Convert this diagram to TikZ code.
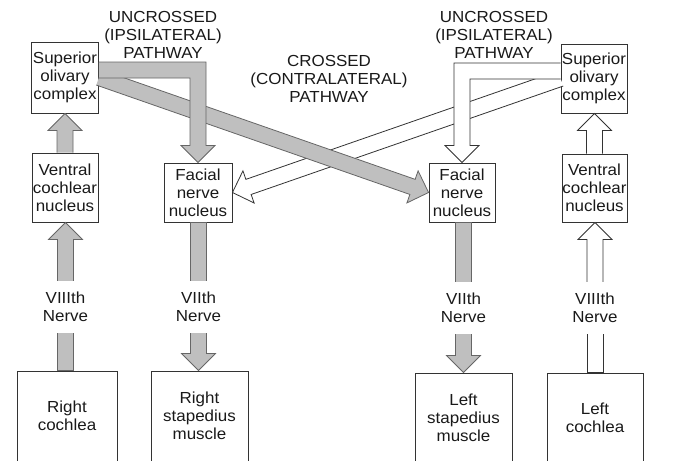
\documentclass[tikz,border=0pt]{standalone}
\usepackage{fontspec}
\setmainfont[FakeStretch=1.06]{Liberation Sans}
\usetikzlibrary{calc}

\tikzset{
	kasten/.style={draw=black!80, line width=0.9pt, align=center, inner sep=0pt, text=black!90, font=\fontsize{16}{18}\selectfont},
	nerv/.style={align=center, inner sep=0pt, minimum height=52pt, text=black!90, font=\fontsize{16}{18}\selectfont},
	titel/.style={align=center, inner sep=0pt, text=black!90, font=\fontsize{16}{18}\selectfont},
	grau/.style={draw=black!60, fill=black!25, line width=0.8pt},
	weiss/.style={draw=black!80, fill=white, line width=0.8pt},
}

% block arrow, head at #3, open at #2
\newcommand{\pfeil}[3][grau]{%
\path (#3) coordinate (pf-b) ($(#3)!17pt!(#2)$) coordinate (pf-k) (#2) coordinate (pf-a);
\filldraw[#1] ($(pf-a)!8pt!90:(pf-b)$) -- ($(pf-k)!8pt!90:(pf-b)$) -- ($(pf-k)!17pt!90:(pf-b)$) -- (pf-b)
  -- ($(pf-k)!17pt!-90:(pf-b)$) -- ($(pf-k)!8pt!-90:(pf-b)$) -- ($(pf-a)!8pt!-90:(pf-b)$);
}
% shaft without head, open at #3
\newcommand{\schaft}[3][grau]{%
\filldraw[#1] ($(#3)!8pt!-90:(#2)$) -- ($(#2)!8pt!90:(#3)$) -- ($(#2)!8pt!-90:(#3)$) -- ($(#3)!8pt!90:(#2)$);
}

\begin{document}
\begin{tikzpicture}[x=1pt,y=1pt]
\path[use as bounding box] (0,0) rectangle (687,-460);
\clip (0,0) rectangle (687,-460);

%right side (gray)
\node[kasten, minimum width=67pt, minimum height=71pt] (socR) at (65,-77.5) {Superior\\olivary\\complex};
\node[kasten, minimum width=66pt, minimum height=69pt] (vcnR) at (65,-187.5) {Ventral\\cochlear\\nucleus};
\node[kasten, minimum width=68pt, minimum height=59pt] (fnnR) at (198,-192.5) {Facial\\nerve\\nucleus};
\node[kasten, minimum width=100pt, minimum height=90pt] (cochR) at (67,-416) {Right\\cochlea};
\node[kasten, minimum width=97pt, minimum height=90pt] (stapR) at (199.5,-416) {Right\\stapedius\\muscle};
\node[nerv] (n8R) at (65.5,-307) {VIIIth\\Nerve};
\node[nerv] (n7R) at (198.5,-307) {VIIth\\Nerve};

%left side (white)
\node[kasten, minimum width=66pt, minimum height=69pt] (socL) at (594,-78.5) {Superior\\olivary\\complex};
\node[kasten, minimum width=65pt, minimum height=68pt] (vcnL) at (594.5,-188) {Ventral\\cochlear\\nucleus};
\node[kasten, minimum width=66pt, minimum height=59pt] (fnnL) at (462,-192.5) {Facial\\nerve\\nucleus};
\node[kasten, minimum width=97pt, minimum height=89pt] (stapL) at (463.5,-417.5) {Left\\stapedius\\muscle};
\node[kasten, minimum width=96pt, minimum height=89pt] (cochL) at (595,-417.5) {Left\\cochlea};
\node[nerv] (n7L) at (463.5,-308) {VIIth\\Nerve};
\node[nerv] (n8L) at (595,-308) {VIIIth\\Nerve};

%labels
\node[titel] (tUR) at (163,-35) {UNCROSSED\\(IPSILATERAL)\\PATHWAY};
\node[titel] (tX) at (329,-79) {CROSSED\\(CONTRALATERAL)\\PATHWAY};
\node[titel] (tUL) at (494,-35) {UNCROSSED\\(IPSILATERAL)\\PATHWAY};

%ascending
\schaft{n8R.south |- cochR.north}{n8R.south}
\pfeil{n8R.north}{n8R.north |- vcnR.south}
\pfeil{vcnR.north}{vcnR.north |- socR.south}
\schaft[weiss]{n8L.south |- cochL.north}{n8L.south}
\pfeil[weiss]{n8L.north}{n8L.north |- vcnL.south}
\pfeil[weiss]{vcnL.north}{vcnL.north |- socL.south}

%descending
\schaft{n7R.north |- fnnR.south}{n7R.north}
\pfeil{n7R.south}{n7R.south |- stapR.north}
\schaft{n7L.north |- fnnL.south}{n7L.north}
\pfeil{n7L.south}{n7L.south |- stapL.north}

%crossed
\pfeil[weiss]{socL.west}{fnnR.east}
\pfeil{socR.east}{fnnL.west}

%uncrossed
\coordinate (ipR) at ($(socR.east)+(0,7.5)$);
\filldraw[grau] ($(ipR)+(0,8)$) -- ($(ipR -| fnnR.north)+(8,8)$) -- ($(fnnR.north)+(8,17)$) -- ($(fnnR.north)+(17,17)$) -- (fnnR.north)
  -- ($(fnnR.north)+(-17,17)$) -- ($(fnnR.north)+(-8,17)$) -- ($(ipR -| fnnR.north)+(-8,-8)$) -- ($(ipR)+(0,-8)$);
\coordinate (ipL) at ($(socL.west)+(0,7.5)$);
\filldraw[weiss] ($(ipL)+(0,8)$) -- ($(ipL -| fnnL.north)+(-8,8)$) -- ($(fnnL.north)+(-8,17)$) -- ($(fnnL.north)+(-17,17)$) -- (fnnL.north)
  -- ($(fnnL.north)+(17,17)$) -- ($(fnnL.north)+(8,17)$) -- ($(ipL -| fnnL.north)+(8,-8)$) -- ($(ipL)+(0,-8)$);
\end{tikzpicture}
\end{document}
